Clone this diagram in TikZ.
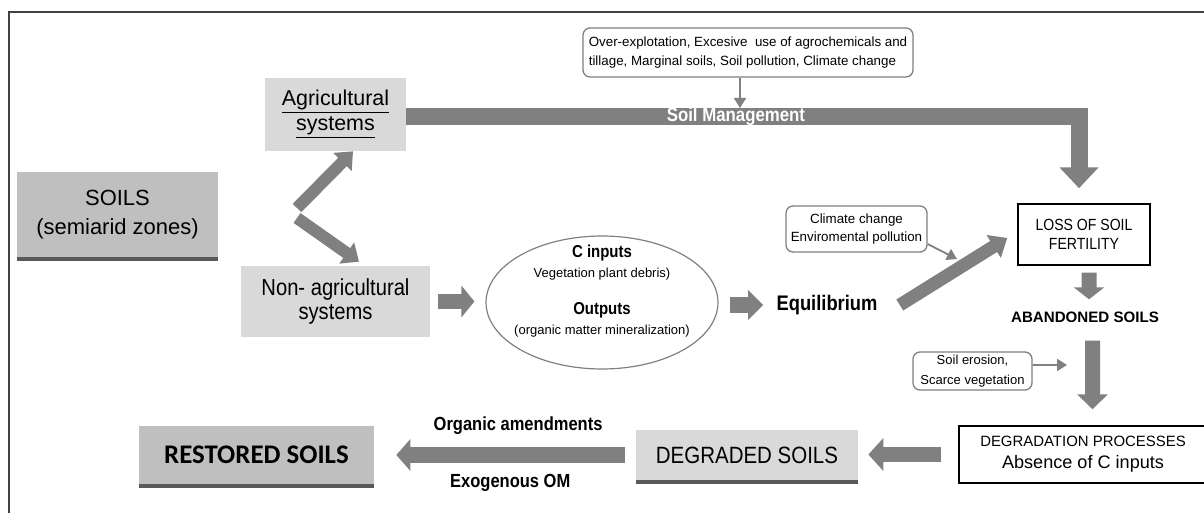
\documentclass[tikz,border=0pt]{standalone}
\usepackage{fontspec}
\setmainfont{Liberation Sans}
\newfontfamily\narrowsans[FakeStretch=0.87]{Liberation Sans}
\newfontfamily\calb{Carlito}
\usetikzlibrary{arrows.meta,shapes.geometric}
\newcommand\fsz[2]{\fontsize{#1}{#2}\selectfont}
\definecolor{arr}{HTML}{808080}
\definecolor{lightbox}{HTML}{D9D9D9}
\definecolor{midbox}{HTML}{BFBFBF}
\definecolor{darkbar}{HTML}{595959}
\definecolor{framecol}{HTML}{404040}
\begin{document}
\begin{tikzpicture}[x=0.02cm,y=-0.02cm,
  box/.style={inner sep=0pt, align=center},
  lbox/.style={box, fill=lightbox},
  mbox/.style={box, fill=midbox},
  notebox/.style={box, draw=arr, line width=0.026cm, rounded corners=0.14cm, fill=white},
  txt/.style={inner sep=0pt},
  blockarrow/.style n args={3}{draw=arr, line width=#1, line join=miter, -{Triangle[width=#2,length=#3]}},
  thinarrow/.style={draw=arr, line width=0.036cm, -{Triangle[width=0.24cm,length=0.2cm]}},
  bottombar/.style={draw=darkbar, line width=0.08cm},
]
\useasboundingbox (0,0) rectangle (1204,513);
\clip (0,0) rectangle (1204,513);
\fill[white] (0,0) rectangle (1204,513);
% frame
\draw[framecol, line width=0.05cm] (9,520) -- (9,12) -- (1215,12);

% nodes
\node[mbox, minimum width=4.02cm, minimum height=1.7cm, font=\fsz{12.5}{16.4}] (soils) at (117.5,214.5) {SOILS\\(semiarid zones)};
\draw[bottombar] ([yshift=-0.04cm]soils.south west) -- ([yshift=-0.04cm]soils.south east);

\node[lbox, minimum width=2.82cm, minimum height=1.46cm, font=\fsz{12.2}{14.2}] (agr) at (335.5,114.5) {\underline{Agricultural}\\\underline{systems}};
\node[lbox, minimum width=3.78cm, minimum height=1.42cm, font=\narrowsans\fsz{13.2}{14.2}] (nonag) at (335.5,301.5) {Non- agricultural\\systems};

\node[notebox, minimum width=6.6cm, minimum height=0.98cm, align=left, font=\fsz{7.6}{10.4}] (over) at (748,52.5) {Over-explotation, Excesive\ \ use of agrochemicals and\\tillage, Marginal soils, Soil pollution, Climate change};

\node[ellipse, draw=arr, line width=0.024cm, minimum width=4.64cm, minimum height=2.66cm, inner sep=0pt] (ell) at (602,302.5) {};
\node[txt, anchor=base, font=\narrowsans\fsz{9.8}{10}\bfseries] (cin) at (602,258) {C inputs};
\node[txt, anchor=base, font=\fsz{7.4}{9}] (veg) at (602,277) {Vegetation plant debris)};
\node[txt, anchor=base, font=\narrowsans\fsz{9.8}{10}\bfseries] (outp) at (602,315) {Outputs};
\node[txt, anchor=base, font=\fsz{7.4}{9}] (orgm) at (602,335) {(organic matter mineralization)};

\node[txt, font=\narrowsans\fsz{12}{12}\bfseries] (eq) at (827,305) {Equilibrium};

\node[notebox, minimum width=2.82cm, minimum height=0.92cm, font=\fsz{7.6}{10.4}] (clim) at (856.5,229) {Climate change\\Enviromental pollution};

\node[box, draw=black, line width=0.03cm, fill=white, minimum width=2.64cm, minimum height=1.22cm, font=\narrowsans\fsz{9.2}{10.8}] (loss) at (1084,234.5) {LOSS OF SOIL\\FERTILITY};

\node[txt, font=\fsz{8.6}{10}\bfseries] (aband) at (1085,317) {ABANDONED SOILS};

\node[notebox, minimum width=2.38cm, minimum height=0.76cm, font=\fsz{7.4}{11.3}] (eros) at (972.5,371) {Soil erosion,\\Scarce vegetation};

\node[box, draw=black, line width=0.03cm, fill=white, minimum width=4.96cm, minimum height=1.14cm, font=\fsz{8.5}{12.5}] (degrp) at (1083,454.5) {DEGRADATION PROCESSES\\{\fsz{10.3}{12.5}Absence of C inputs}};

\node[lbox, minimum width=4.44cm, minimum height=1cm, font=\narrowsans\fsz{13.4}{14}] (degraded) at (747,455) {DEGRADED SOILS};
\draw[bottombar] ([yshift=-0.04cm]degraded.south west) -- ([yshift=-0.04cm]degraded.south east);

\node[mbox, minimum width=4.7cm, minimum height=1.16cm, font=\calb\bfseries\fsz{15.3}{18}] (rest) at (256.5,455) {RESTORED SOILS};
\draw[bottombar] ([yshift=-0.04cm]rest.south west) -- ([yshift=-0.04cm]rest.south east);

% coordinates
\coordinate (zig) at (297,213);
\coordinate (smc) at (1079,116.5);
\coordinate (smtop) at (740,108);
\coordinate (cctip) at (957,259);
\coordinate (erostip) at (1067,365);

% block arrows
\draw[blockarrow={0.24cm}{0.5cm}{0.3cm}] ([yshift=0.1cm]zig) -- ([xshift=0.35cm]agr.south);
\draw[blockarrow={0.24cm}{0.5cm}{0.3cm}] ([yshift=-0.1cm]zig) -- ([xshift=0.47cm,yshift=0.08cm]nonag.north);

\draw[blockarrow={0.34cm}{0.76cm}{0.42cm}, shorten >=0.3cm] (agr.east |- smc) -- node[pos=0.49, txt, text=white, font=\narrowsans\fsz{11}{11}\bfseries] (smlabel) {Soil Management} (smc) -- (smc |- loss.north);

\draw[blockarrow={0.32cm}{0.62cm}{0.26cm}, shorten <=0.16cm, shorten >=0.22cm] (nonag.east) -- (nonag.east -| ell.west);
\draw[blockarrow={0.32cm}{0.58cm}{0.3cm}, shorten <=0.22cm, shorten >=0.26cm] (ell.east |- eq.west) -- (eq.west);

\draw[blockarrow={0.26cm}{0.52cm}{0.32cm}] ([xshift=0.44cm]eq.east) -- ([xshift=-0.2cm,yshift=-0.07cm]loss.west);

\draw[blockarrow={0.3cm}{0.6cm}{0.24cm}, shorten <=0.14cm, shorten >=0.24cm] ([xshift=0.1cm]loss.south) -- ([xshift=0.08cm]aband.north);
\draw[blockarrow={0.3cm}{0.6cm}{0.3cm}, shorten <=0.36cm, shorten >=0.32cm] ([xshift=0.15cm]aband.south) -- ([xshift=0.19cm]degrp.north);

\draw[blockarrow={0.32cm}{0.64cm}{0.3cm}, shorten <=0.34cm, shorten >=0.2cm] (degrp.west) -- (degrp.west -| degraded.east);

\draw[blockarrow={0.32cm}{0.62cm}{0.28cm}, shorten <=0.22cm, shorten >=0.44cm] (degraded.west) -- (degraded.west -| rest.east)
  node[pos=0.45, above=0.24cm, txt, font=\narrowsans\fsz{10.8}{11}\bfseries] (orgam) {Organic amendments}
  node[pos=0.48, below=0.22cm, txt, font=\narrowsans\fsz{10.8}{11}\bfseries] (exom) {Exogenous OM};

% thin arrows
\draw[thinarrow] (over.south -| smtop) -- (smtop);
\draw[thinarrow] ([yshift=-0.3cm]clim.east) -- (cctip);
\draw[thinarrow] ([yshift=0.12cm]eros.east) -- (erostip);
\end{tikzpicture}
\end{document}
